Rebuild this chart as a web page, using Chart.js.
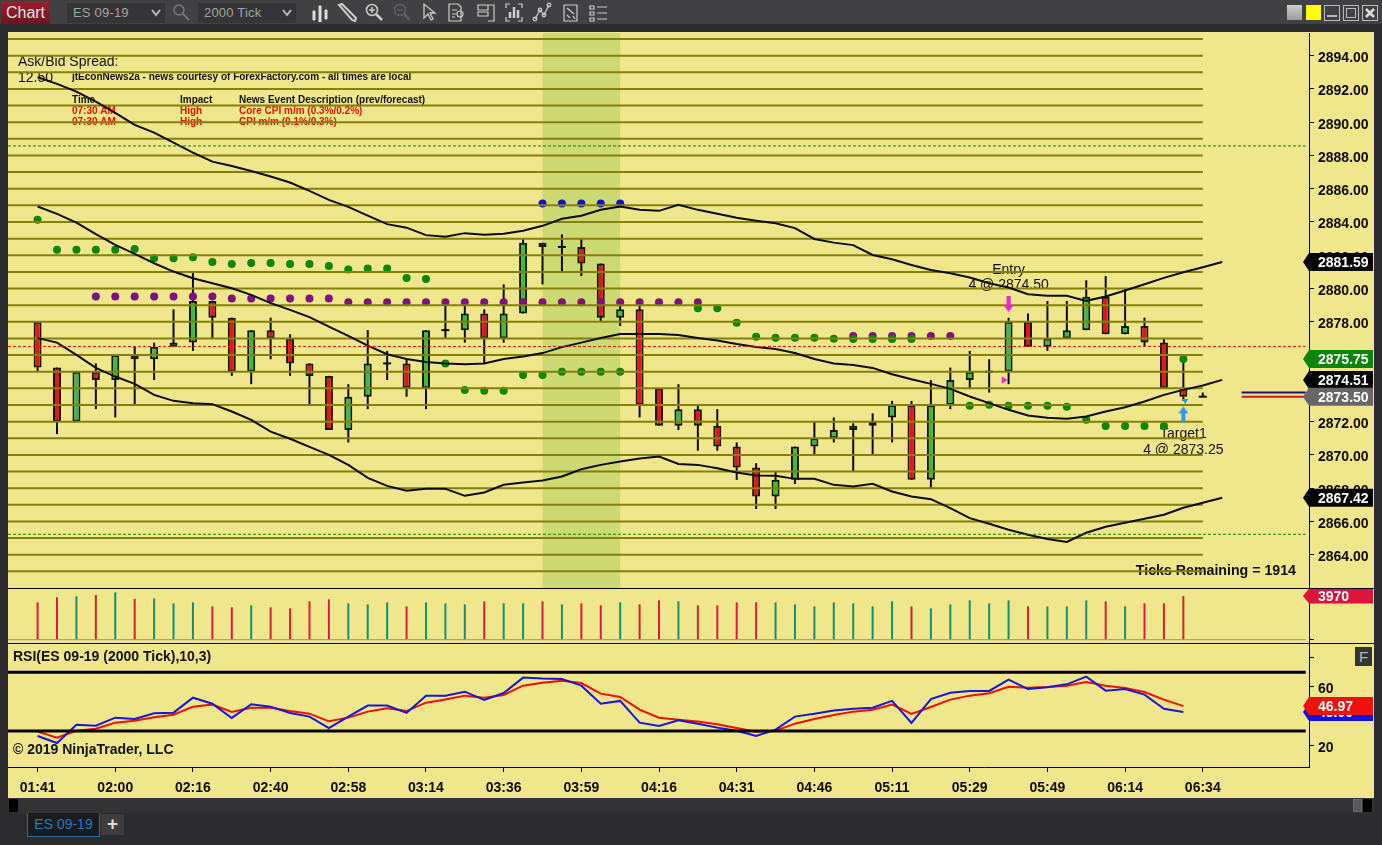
<!DOCTYPE html>
<html>
<head>
<meta charset="utf-8">
<title>ES 09-19</title>
<script src="https://cdn.jsdelivr.net/npm/chart.js@4"></script>
<style>
html, body { margin: 0; padding: 0; background: #2c2c2e; width: 1382px; height: 845px; overflow: hidden; font-family: "Liberation Sans", Arial, sans-serif; }
#toolbar { position: absolute; left: 0; top: 0; width: 1382px; height: 24px; background: #414143; }
#underbar { position: absolute; left: 0; top: 24px; width: 1382px; height: 8px; background: #2c2c2e; }
#chartBtn { position: absolute; left: 1px; top: 1px; width: 49px; height: 23px; background: linear-gradient(#97202f, #6f1420); color: #e6e0e0; font-size: 16px; line-height: 23px; text-align: center; }
.drop { position: absolute; top: 3px; height: 20px; width: 98px; background: #353537; color: #a3a3a3; font-size: 13px; line-height: 20px; text-indent: 6px; letter-spacing: 0.2px; }
.drop svg { position: absolute; right: 4px; top: 6px; }
.icon { position: absolute; top: 2px; }
#panel { position: absolute; left: 8px; top: 32px; width: 1366px; height: 766px; background: #f0e68c; }
canvas { position: absolute; left: 8px; }
.rule { position: absolute; left: 8px; width: 1366px; height: 1px; background: #000; }
#fBtn { position: absolute; left: 1355px; top: 647px; width: 17px; height: 19px; background: #333335; color: #bbb; font-size: 15px; line-height: 19px; text-align: center; }
#scroll { position: absolute; left: 8px; top: 798px; width: 1366px; height: 15px; background: #333335; }
.scrollEnd { position: absolute; top: 799px; width: 9px; height: 13px; background: #000; }
#thumb { position: absolute; left: 1353px; top: 799px; width: 9px; height: 13px; background: #58585a; border: 1px solid #6b6b6d; box-sizing: border-box; }
#tab { position: absolute; left: 27px; top: 813px; width: 73px; height: 24px; box-sizing: border-box; background: #1c1c1e; border: 1px solid #1e6fae; border-top: none; color: #1e78c2; font-size: 14px; line-height: 23px; text-align: center; }
#plus { position: absolute; left: 101px; top: 814px; width: 23px; height: 21px; background: #3d3d40; color: #ddd; font-size: 19px; font-weight: bold; line-height: 20px; text-align: center; }
.winBtn { position: absolute; top: 5px; width: 15px; height: 15px; box-sizing: border-box; }
</style>
</head>
<body>
<div id="toolbar">
    <div id="chartBtn">Chart</div>
    <div class="drop" style="left:67px">ES 09-19<svg width="10" height="8"><path d="M1 1 L5 6 L9 1" stroke="#bbb" stroke-width="2" fill="none"/></svg></div>
    <svg class="icon" style="left:171px" width="20" height="20" stroke="#77777a" fill="none" stroke-width="1.5"><circle cx="8" cy="8" r="5"/><path d="M12 12 L18 18" stroke-width="2"/></svg>
    <div class="drop" style="left:198px">2000 Tick<svg width="10" height="8"><path d="M1 1 L5 6 L9 1" stroke="#bbb" stroke-width="2" fill="none"/></svg></div>
    <svg class="icon" style="left:310px" width="20" height="20" stroke="#ddd" fill="#ddd" stroke-width="1"><path d="M3 9 H5 V18 H3Z M9 4 H11 V20 H9Z M15 8 H17 V17 H15Z"/></svg>
    <svg class="icon" style="left:337px" width="20" height="20" stroke="#ccc" fill="none" stroke-width="2"><path d="M2 3 L5 2 L19 16 L18 19 L15 18 Z"/></svg>
    <svg class="icon" style="left:364px" width="20" height="20" stroke="#ccc" fill="none" stroke-width="1.5"><circle cx="8" cy="8" r="5.5"/><path d="M5 8 H11 M8 5 V11"/><path d="M12 12 L18 18" stroke-width="2.5"/></svg>
    <svg class="icon" style="left:392px" width="20" height="20" stroke="#5f5f61" fill="none" stroke-width="1.5"><circle cx="8" cy="8" r="5.5"/><path d="M5 8 H11"/><path d="M12 12 L18 18" stroke-width="2.5"/></svg>
    <svg class="icon" style="left:420px" width="20" height="20" stroke="#ccc" fill="none" stroke-width="1.3"><path d="M4 2 L4 16 L8 12 L11 18 L13 17 L10 11 L15 11 Z"/></svg>
    <svg class="icon" style="left:447px" width="20" height="20" stroke="#ccc" fill="none" stroke-width="1.2"><path d="M2 2 H11 L14 5 V19 H2 Z M5 8 H10 M5 12 H9 M5 15 H8"/><circle cx="13" cy="12" r="3"/></svg>
    <svg class="icon" style="left:476px" width="20" height="20" stroke="#ccc" fill="none" stroke-width="1.2"><path d="M2 3 H12 V8 H2 Z M2 10 H12 V14 H2 Z M12 3 H18 V19 H12"/></svg>
    <svg class="icon" style="left:504px" width="20" height="20" stroke="#ccc" fill="none" stroke-width="1.2"><path d="M2 6 V2 H6 M14 2 H18 V6 M18 15 V19 H14 M6 19 H2 V15"/><path d="M6 16 V10 M10 16 V5 M14 16 V8" stroke-width="2.5"/></svg>
    <svg class="icon" style="left:532px" width="20" height="20" stroke="#ccc" fill="none" stroke-width="1.2"><path d="M3 17 L8 8 L12 13 L17 3"/><circle cx="3" cy="17" r="1.8"/><circle cx="8" cy="8" r="1.8"/><circle cx="12" cy="13" r="1.8"/><circle cx="17" cy="3" r="1.8"/></svg>
    <svg class="icon" style="left:561px" width="20" height="20" stroke="#ccc" fill="none" stroke-width="1.2"><path d="M3 3 H16 V19 H3 Z M6 6 L13 12 M6 13 L9 16 M12 14 L14 17"/></svg>
    <svg class="icon" style="left:589px" width="20" height="20" stroke="#ccc" fill="none" stroke-width="1.2"><path d="M1 4 H5 V7 H1 Z M1 10 H5 V13 H1 Z M1 16 H5 V19 H1 Z M8 5 H18 M8 11 H18 M8 17 H18"/></svg>
    <div class="winBtn" style="left:1287px;background:linear-gradient(#cfcfcf,#9a9a9a);width:15px"></div>
    <div class="winBtn" style="left:1306px;background:#ffff00"></div>
    <svg class="icon" style="left:1324px;top:5px" width="16" height="16" stroke="#bbb" fill="none"><rect x="0.5" y="0.5" width="15" height="15"/><path d="M3 11 H13" stroke-width="2"/></svg>
    <svg class="icon" style="left:1343px;top:5px" width="16" height="16" stroke="#bbb" fill="none"><rect x="0.5" y="0.5" width="15" height="15"/><rect x="3.5" y="3.5" width="9" height="9"/></svg>
    <svg class="icon" style="left:1362px;top:5px" width="16" height="16" stroke="#bbb" fill="none"><rect x="0.5" y="0.5" width="15" height="15"/><path d="M4 4 L12 12 M12 4 L4 12" stroke-width="2.5" stroke="#ddd"/></svg>
</div>
<div id="underbar"></div>
<div id="panel"></div>
<canvas id="priceChart" style="top:33px;width:1366px;height:555px"></canvas>
<div class="rule" style="top:588px"></div>
<canvas id="volumeChart" style="top:589px;width:1366px;height:54px"></canvas>
<div class="rule" style="top:643px"></div>
<canvas id="rsiChart" style="top:644px;width:1366px;height:154px"></canvas>
<div id="fBtn">F</div>
<div id="scroll"></div>
<div class="scrollEnd" style="left:9px"></div>
<div class="scrollEnd" style="left:1363px"></div>
<div id="thumb"></div>
<div id="tab">ES 09-19</div>
<div id="plus">+</div>

<script>
// candles, one entry per bar, in price
const opens = [2878, 2875.25, 2872, 2875, 2874.5, 2876, 2875.75, 2876.5, 2876.75, 2879.25,
    2878.25, 2875, 2877.5, 2877, 2875.5, 2874.75, 2871.5, 2873.5, 2875.5, 2875.5,
    2874, 2877.5, 2877.5, 2878.5, 2877, 2878.5, 2882.75, 2882.5, 2882.5, 2881.5,
    2878.25, 2878.75, 2874, 2871.75, 2872.75, 2871.75, 2870.5, 2869.25, 2867.5, 2868.5,
    2870.5, 2871, 2871.5, 2871.75, 2872.25, 2873, 2868.5, 2873, 2874.5, 2875,
    2875, 2878, 2876.5, 2877, 2877.5, 2879.5, 2877.25, 2877.75, 2876.75, 2874, 2873.5];
const closes = [2875.25, 2872, 2875, 2874.5, 2876, 2875.75, 2876.5, 2876.75, 2879.25, 2878.25,
    2875, 2877.5, 2877, 2875.5, 2874.75, 2871.5, 2873.5, 2875.5, 2875.5, 2874,
    2877.5, 2877.5, 2878.5, 2877, 2878.5, 2882.75, 2882.5, 2882.5, 2881.5, 2878.25,
    2878.75, 2873, 2871.75, 2872.75, 2871.75, 2870.5, 2869.25, 2867.5, 2868.5, 2870.5,
    2871, 2871.5, 2871.75, 2872, 2873, 2868.5, 2873, 2874.5, 2875, 2875,
    2878, 2876.5, 2877, 2877.5, 2879.5, 2877.25, 2877.75, 2876.75, 2874, 2873.5, 2873.5];
const highs = [2878, 2875.25, 2875, 2875.5, 2876, 2876.5, 2876.75, 2878.75, 2881, 2879.25,
    2878.25, 2877.5, 2878.25, 2877.25, 2875.5, 2874.75, 2874.25, 2877.5, 2876.25, 2875.75,
    2877.5, 2879, 2879, 2878.75, 2880.25, 2883, 2882.75, 2883.25, 2883, 2881.5,
    2879, 2879, 2874, 2874.25, 2873, 2872.75, 2870.75, 2869.5, 2869, 2870.5,
    2872, 2872.25, 2871.9, 2872.5, 2873.25, 2873.25, 2874.5, 2875.25, 2876.25, 2875.75,
    2878.25, 2878.5, 2879.25, 2879.25, 2880.5, 2880.75, 2880, 2878.25, 2877, 2875.75, 2873.75];
const lows = [2875, 2871.25, 2872, 2872.75, 2872.25, 2873, 2874.5, 2876.5, 2876.25, 2877,
    2874.75, 2874.25, 2875.75, 2874.75, 2873, 2871.5, 2870.75, 2872.75, 2874.5, 2873.5,
    2872.75, 2877, 2876.75, 2875.5, 2876.75, 2878.5, 2880.25, 2881, 2880.75, 2878,
    2877.75, 2872.25, 2871.75, 2871.5, 2870.25, 2870.25, 2868.5, 2866.75, 2866.75, 2868.25,
    2870, 2870.75, 2869, 2870, 2870.75, 2868.5, 2868, 2872.75, 2874, 2873.75,
    2874.25, 2876.5, 2876.25, 2877, 2877.5, 2877.25, 2877.25, 2876.5, 2874, 2873.25, 2873.5];
const volumes = [3394, 3848, 3939, 4060, 4303, 3697, 3757, 3303, 3394, 3030,
    2939, 3121, 2939, 2848, 3485, 3666, 3303, 3212, 3394, 3030,
    3394, 3303, 3212, 3485, 3303, 3303, 3485, 3212, 3303, 3121,
    3394, 3212, 3575, 3485, 3121, 3121, 3394, 3394, 3394, 3212,
    3030, 3394, 3303, 3030, 3485, 3030, 2848, 3212, 3575, 3303,
    3575, 3030, 3030, 3030, 3575, 3485, 3030, 3303, 3303, 3970];

// moving average envelope
const upperBand = [2892.70, 2892.30, 2891.84, 2891.24, 2890.56, 2889.84, 2889.37, 2888.77, 2888.17, 2887.63,
    2887.37, 2887.07, 2886.73, 2886.37, 2885.87, 2885.33, 2884.91, 2884.38, 2883.87, 2883.66,
    2883.21, 2883.12, 2883.33, 2883.24, 2883.30, 2883.48, 2883.77, 2884.19, 2884.38, 2884.73,
    2884.93, 2884.73, 2884.67, 2885.03, 2884.73, 2884.49, 2884.25, 2884.08, 2883.93, 2883.63,
    2882.98, 2882.76, 2882.61, 2882.02, 2881.76, 2881.42, 2881.12, 2880.92, 2880.66, 2880.32,
    2880.06, 2879.66, 2879.56, 2879.56, 2879.26, 2879.52, 2879.88, 2880.26, 2880.64, 2880.98,
    2881.28, 2881.59];
const middleBand = [2884.93, 2884.49, 2883.96, 2883.27, 2882.62, 2882.08, 2881.52, 2881.02, 2880.62, 2880.32,
    2880.02, 2879.62, 2879.12, 2878.72, 2878.28, 2877.71, 2877.15, 2876.57, 2876.05, 2875.77,
    2875.59, 2875.49, 2875.45, 2875.49, 2875.77, 2875.91, 2876.12, 2876.48, 2876.75, 2877.03,
    2877.27, 2877.27, 2877.27, 2877.21, 2877.03, 2876.87, 2876.66, 2876.49, 2876.37, 2876.12,
    2875.77, 2875.49, 2875.41, 2875.23, 2874.85, 2874.55, 2874.27, 2873.97, 2873.51, 2873.11,
    2872.71, 2872.37, 2872.23, 2872.17, 2872.31, 2872.61, 2872.87, 2873.21, 2873.61, 2873.91,
    2874.17, 2874.51];
const lowerBand = [2877.02, 2876.75, 2876.01, 2875.23, 2874.71, 2874.27, 2873.61, 2873.25, 2873.11, 2873.05,
    2872.61, 2872.11, 2871.40, 2870.97, 2870.48, 2870.00, 2869.40, 2868.62, 2868.14, 2867.84,
    2867.96, 2867.96, 2867.54, 2867.74, 2868.20, 2868.34, 2868.46, 2868.70, 2869.14, 2869.40,
    2869.60, 2869.78, 2869.90, 2869.46, 2869.40, 2869.20, 2868.94, 2868.76, 2868.74, 2868.56,
    2868.56, 2868.20, 2868.10, 2868.26, 2867.80, 2867.50, 2867.34, 2866.80, 2866.20, 2865.86,
    2865.50, 2865.20, 2864.95, 2864.77, 2865.32, 2865.68, 2865.92, 2866.16, 2866.40, 2866.82,
    2867.12, 2867.42];

// dots of the trailing stop indicators, null where a bar has no dot
const greenDots = [2884.13, 2882.33, 2882.33, 2882.33, 2882.33, 2882.37, 2881.82, 2881.82, 2881.88, 2881.6,
    2881.48, 2881.54, 2881.54, 2881.48, 2881.48, 2881.36, 2881.14, 2881.2, 2881.2, 2880.64,
    2880.58, 2875.49, 2873.9, 2873.85, 2873.85, 2874.81, 2874.81, 2875, 2875, 2875,
    2875, null, null, null, 2878.82, 2878.82, 2877.94, 2877.1, 2877.04, 2877.04,
    2877.04, 2876.98, 2876.97, 2876.97, 2876.97, 2876.97, null, null, 2872.96, 2873.02,
    2872.96, 2872.96, 2872.96, 2872.9, 2872.12, 2871.74, 2871.74, 2871.74, 2871.74, 2875.77];
const purpleDots = [null, null, null, 2879.52, 2879.52, 2879.52, 2879.52, 2879.52, 2879.52, 2879.52,
    2879.4, 2879.4, 2879.4, 2879.4, 2879.4, 2879.4, 2879.18, 2879.18, 2879.18, 2879.18,
    2879.18, 2879.18, 2879.18, 2879.18, 2879.18, 2879.18, 2879.18, 2879.18, 2879.18, 2879.18,
    2879.18, 2879.18, 2879.18, 2879.18, 2879.18, null, null, null, null, null,
    null, null, 2877.15, 2877.15, 2877.15, 2877.15, 2877.15, 2877.15];
const blueDots = [{x: 26, y: 2885.11}, {x: 27, y: 2885.11}, {x: 28, y: 2885.11}, {x: 29, y: 2885.11}, {x: 30, y: 2885.11}];

// RSI panel
const rsiValues = [26.6, 21.8, 34.3, 33.6, 39.1, 38.2, 42.05, 42.5, 52.7, 48.6,
    38.9, 48.2, 46.6, 42.3, 39.8, 32.05, 39.8, 47.3, 47.3, 42.3,
    54.1, 54.1, 56.8, 51.1, 55.9, 66.4, 65.7, 65.5, 60.9, 48.6,
    50.5, 35.7, 33.4, 37.3, 35, 32.3, 30.2, 26.6, 30.9, 39.8,
    41.8, 43.9, 45.2, 45.9, 50.5, 35.5, 51.8, 56.1, 57.3, 57.3,
    65, 58.6, 59.8, 61.8, 67.05, 57.5, 58.6, 54.8, 45.2, 43];
const rsiAverage = [29.55, 25.45, 30.2, 31.6, 35.7, 37.05, 39.3, 41.1, 46.6, 48,
    43, 45.9, 45.9, 43.6, 41.8, 36.6, 39.1, 43.2, 45.5, 43.6,
    49.3, 51.4, 54.1, 52.7, 54.55, 60.9, 62.95, 64.3, 62.7, 55.45,
    53.2, 44.55, 39.1, 37.7, 36.4, 34.55, 32.05, 29.55, 30.2, 35,
    38.2, 40.9, 43.2, 44.55, 48, 41.6, 46.4, 51.4, 54.1, 55.7,
    60.2, 59.55, 60, 60.9, 63.4, 60.9, 59.3, 56.6, 51.4, 46.97];
const rsiBands = [70, 30];
const rsiTicks = [80, 60, 40, 20];
const rsiTickLabels = [60, 20];

// reference levels and axis
const gridLevels = [2895, 2894, 2893, 2892, 2891, 2890, 2889, 2888, 2887, 2886, 2885, 2884, 2883, 2882, 2881, 2880, 2879,
    2878, 2877, 2876, 2875, 2874, 2873, 2872, 2871, 2870, 2869, 2868, 2867, 2866, 2865, 2864, 2863];
const greenDashLevels = [2888.57, 2865.23];
const redDashLevel = 2876.52;
const askPrice = 2873.75;
const bidPrice = 2873.5;
const priceTicks = [2894, 2892, 2890, 2888, 2886, 2884, 2882, 2880, 2878, 2876, 2874, 2872, 2870, 2868, 2866, 2864];
const timeTickBars = [0, 4, 8, 12, 16, 20, 24, 28, 32, 36, 40, 44, 48, 52, 56, 60];
const timeLabels = ['01:41', '02:00', '02:16', '02:40', '02:58', '03:14', '03:36', '03:59', '04:16', '04:31', '04:46', '05:11', '05:29', '05:49', '06:14', '06:34'];
const sessionBand = [26, 30];

const KHAKI_TEXT = '#0c0c08';
const UP = '#41b941', DOWN = '#e8141a';
const VOL_UP = '#16906c', VOL_DOWN = '#d81e3c';
const AXIS_FONT = { family: '"Liberation Sans", Arial, sans-serif', size: 14, weight: 'bold' };
const X_MIN = -1.524, X_MAX = 65.47;
const LAST_BAR_LINE = 60, RIGHT_EDGE = 65.3;

const xy = values => values.map((v, i) => ({ x: i, y: v }));
const flat = (from, to, y) => [{ x: from, y: y }, { x: to, y: y }];
const isUp = i => closes[i] >= opens[i];

function arrowImage(color, up) {
    // small block arrow used for the order markers
    const c = document.createElement('canvas');
    c.width = 10; c.height = 16;
    const g = c.getContext('2d');
    g.fillStyle = color;
    g.beginPath();
    if (up) {
        g.moveTo(5, 0); g.lineTo(10, 7); g.lineTo(7, 7); g.lineTo(7, 16); g.lineTo(3, 16); g.lineTo(3, 7); g.lineTo(0, 7);
    } else {
        g.moveTo(3, 0); g.lineTo(7, 0); g.lineTo(7, 9); g.lineTo(10, 9); g.lineTo(5, 16); g.lineTo(0, 9); g.lineTo(3, 9);
    }
    g.closePath();
    g.fill();
    return c;
}

function drawTag(ctx, chartArea, y, text, fill, height) {
    const left = chartArea.right;
    const tagH = height || 18;
    ctx.save();
    ctx.fillStyle = fill;
    ctx.beginPath();
    ctx.moveTo(left - 6, y);
    ctx.lineTo(left, y - tagH / 2);
    ctx.lineTo(left + 64, y - tagH / 2);
    ctx.lineTo(left + 64, y + tagH / 2);
    ctx.lineTo(left, y + tagH / 2);
    ctx.closePath();
    ctx.fill();
    ctx.fillStyle = '#fff';
    ctx.font = 'bold 14px "Liberation Sans", Arial, sans-serif';
    ctx.textBaseline = 'middle';
    ctx.textAlign = 'left';
    ctx.fillText(text, left + 9, y + 1);
    ctx.restore();
}

function axisX() {
    return { type: 'linear', min: X_MIN, max: X_MAX, offset: false, display: false, grid: { display: false } };
}

// scales reserve room for half a label past the plot: the panels here butt up against each other
function noMargins(scale) {
    scale.paddingTop = 0;
    scale.paddingBottom = 0;
    scale.paddingLeft = 0;
    scale.paddingRight = 0;
}

function rightAxis(min, max, ticksList, labelFn) {
    return {
        type: 'linear',
        position: 'right',
        min: min,
        max: max,
        afterFit: scale => { scale.width = 65; noMargins(scale); },
        afterBuildTicks: scale => { scale.ticks = ticksList.map(v => ({ value: v })); },
        border: { display: true, color: '#000', width: 1 },
        grid: { display: true, drawOnChartArea: false, drawTicks: true, tickLength: 5, tickColor: '#000', tickWidth: 1 },
        ticks: { color: KHAKI_TEXT, font: AXIS_FONT, padding: 4, labelOffset: 2.5, callback: labelFn, autoSkip: false }
    };
}

const baseOptions = {
    responsive: false,
    animation: false,
    events: [],
    layout: { padding: 0, autoPadding: false },
    plugins: { legend: { display: false }, tooltip: { enabled: false } }
};

// text that the grid lines run across, so it goes under the datasets
const priceUnderlay = {
    id: 'priceUnderlay',
    beforeDatasetsDraw(chart) {
        const { ctx, chartArea, scales: { x, y } } = chart;
        ctx.save();
        ctx.fillStyle = '#cdd973';
        const l = x.getPixelForValue(sessionBand[0]), r = x.getPixelForValue(sessionBand[1]);
        ctx.fillRect(l, chartArea.top, r - l, chartArea.bottom - chartArea.top);

        const put = (text, px, py, font, color, align) => {
            ctx.font = font;
            ctx.fillStyle = color;
            ctx.textAlign = align || 'left';
            ctx.textBaseline = 'middle';
            ctx.fillText(text, px, py);
        };
        const big = '14px "Liberation Sans", Arial, sans-serif';
        const small = 'bold 10px "Liberation Sans", Arial, sans-serif';
        put('Ask/Bid Spread:', 10, 29, big, '#111');
        put('12.50', 10, 45, big, '#111');
        put('jtEconNews2a - news courtesy of ForexFactory.com - all times are local', 64, 44, small, '#111');
        put('Time', 64, 67, small, '#111');
        put('Impact', 172, 67, small, '#111');
        put('News Event Description (prev/forecast)', 231, 67, small, '#111');
        put('07:30 AM', 64, 78, small, '#ee1100');
        put('High', 172, 78, small, '#ee1100');
        put('Core CPI m/m (0.3%/0.2%)', 231, 78, small, '#ee1100');
        put('07:30 AM', 64, 89, small, '#ee1100');
        put('High', 172, 89, small, '#ee1100');
        put('CPI m/m (0.1%/0.3%)', 231, 89, small, '#ee1100');

        const entryX = x.getPixelForValue(50);
        put('Entry', entryX, y.getPixelForValue(2881.12), big, '#111', 'center');
        put('4 @ 2874.50', entryX, y.getPixelForValue(2880.22), big, '#111', 'center');
        const targetX = x.getPixelForValue(59);
        put('Target1', targetX, y.getPixelForValue(2871.27), big, '#111', 'center');
        put('4 @ 2873.25', targetX, y.getPixelForValue(2870.3), big, '#111', 'center');
        put('Ticks Remaining = 1914', 1288, 538, 'bold 14.2px "Liberation Sans", Arial, sans-serif', '#111', 'right');
        ctx.restore();
    },
    afterDraw(chart) {
        const { ctx, chartArea, scales: { y } } = chart;
        drawTag(ctx, chartArea, y.getPixelForValue(upperBand[61]), '2881.59', '#050505');
        drawTag(ctx, chartArea, y.getPixelForValue(lowerBand[61]), '2867.42', '#050505');
        drawTag(ctx, chartArea, y.getPixelForValue(middleBand[61]), '2874.51', '#050505');
        drawTag(ctx, chartArea, y.getPixelForValue(greenDots[59]), '2875.75', '#0b850b');
        drawTag(ctx, chartArea, y.getPixelForValue(bidPrice), '2873.50', '#67676a');
    }
};

const gridSets = gridLevels.map(level => ({
    type: 'line',
    data: flat(X_MIN, LAST_BAR_LINE, level),
    borderColor: '#857f0c',
    borderWidth: 2,
    pointRadius: 0,
    order: 6
}));

const dots = (points, color) => ({
    type: 'line',
    data: points,
    showLine: false,
    pointRadius: 4,
    pointBorderWidth: 0,
    pointBackgroundColor: color,
    order: 7
});
const band = values => ({
    type: 'line',
    data: xy(values),
    borderColor: '#0c0c08',
    borderWidth: 2,
    pointRadius: 0,
    order: 5
});
const dash = (level, color, to) => ({
    type: 'line',
    data: flat(X_MIN, to, level),
    borderColor: color,
    borderWidth: 1,
    borderDash: [3, 2],
    pointRadius: 0,
    order: 5
});
const marker = (x, y, style, color, radius, rotation) => ({
    type: 'line',
    data: [{ x: x, y: y }],
    showLine: false,
    pointStyle: style,
    pointRadius: radius,
    pointRotation: rotation,
    pointBorderWidth: 0,
    pointBackgroundColor: color,
    order: 4
});

new Chart(document.getElementById('priceChart'), {
    type: 'bar',
    data: {
        datasets: [
            {
                data: highs.map((h, i) => ({ x: i, y: [lows[i], h] })),
                backgroundColor: '#0a0a0a',
                barThickness: 2,
                grouped: false,
                inflateAmount: 0,
                order: 10
            },
            {
                data: opens.map((o, i) => ({ x: i, y: o === closes[i] ? null : [o, closes[i]] })),
                backgroundColor: opens.map((o, i) => (isUp(i) ? UP : DOWN)),
                borderColor: '#101808',
                borderWidth: 2,
                borderSkipped: false,
                barThickness: 8,
                grouped: false,
                inflateAmount: 0,
                order: 9
            },
            {
                type: 'line',
                data: opens.map((o, i) => ({ x: i, y: o === closes[i] ? o : null })),
                showLine: false,
                pointStyle: 'line',
                pointRadius: 4,
                pointBorderWidth: 2,
                pointBorderColor: '#0a0a0a',
                order: 8
            },
            dots(xy(greenDots), '#0a860a'),
            dots(xy(purpleDots), '#7f107f'),
            dots(blueDots, '#1010d0'),
            ...gridSets,
            dash(greenDashLevels[0], '#0a860a', RIGHT_EDGE),
            dash(greenDashLevels[1], '#0a860a', RIGHT_EDGE),
            dash(redDashLevel, '#ee1100', RIGHT_EDGE),
            band(upperBand),
            band(middleBand),
            band(lowerBand),
            {
                type: 'line',
                data: [{ x: 62, y: askPrice }, { x: RIGHT_EDGE, y: askPrice }],
                borderColor: '#14147c',
                borderWidth: 2,
                pointRadius: 0,
                order: 5
            },
            {
                type: 'line',
                data: [{ x: 62, y: bidPrice }, { x: RIGHT_EDGE, y: bidPrice }],
                borderColor: '#e01010',
                borderWidth: 2,
                pointRadius: 0,
                order: 5
            },
            marker(50, 2879.07, arrowImage('#f41fd8', false), '#f41fd8', 8, 0),
            marker(49.75, 2874.5, 'triangle', '#f41fd8', 4, 90),
            marker(59, 2872.44, arrowImage('#2f97f0', true), '#2f97f0', 8, 0),
            marker(59.1, 2873.25, 'triangle', '#2f97f0', 3.5, 300)
        ]
    },
    options: {
        ...baseOptions,
        scales: {
            x: axisX(),
            y: rightAxis(2862, 2895.36, priceTicks, v => v.toFixed(2))
        }
    },
    plugins: [priceUnderlay]
});

new Chart(document.getElementById('volumeChart'), {
    type: 'bar',
    data: {
        datasets: [
            {
                data: xy(volumes),
                backgroundColor: volumes.map((v, i) => (isUp(i) ? VOL_UP : VOL_DOWN)),
                barThickness: 2,
                inflateAmount: 0,
                order: 2
            },
            {
                type: 'line',
                data: flat(X_MIN, RIGHT_EDGE, 0),
                borderColor: '#949488',
                borderWidth: 1,
                pointRadius: 0,
                order: 3
            }
        ]
    },
    options: {
        ...baseOptions,
        scales: {
            x: axisX(),
            y: rightAxis(-300, 4606, [0], () => '')
        }
    },
    plugins: [{
        id: 'volumeTag',
        afterDraw(chart) {
            drawTag(chart.ctx, chart.chartArea, chart.scales.y.getPixelForValue(volumes[59]), '3970', '#dc143c', 15);
        }
    }]
});

new Chart(document.getElementById('rsiChart'), {
    type: 'line',
    data: {
        datasets: [
            { data: flat(X_MIN, RIGHT_EDGE, rsiBands[0]), borderColor: '#000', borderWidth: 3, pointRadius: 0 },
            { data: flat(X_MIN, RIGHT_EDGE, rsiBands[1]), borderColor: '#000', borderWidth: 3, pointRadius: 0 },
            { data: xy(rsiValues), borderColor: '#1515dc', borderWidth: 2, pointRadius: 0 },
            { data: xy(rsiAverage), borderColor: '#f01000', borderWidth: 2, pointRadius: 0 }
        ]
    },
    options: {
        ...baseOptions,
        scales: {
            x: {
                type: 'linear',
                min: X_MIN,
                max: X_MAX,
                offset: false,
                afterFit: scale => { scale.height = 31; noMargins(scale); },
                afterBuildTicks: scale => { scale.ticks = timeTickBars.map(v => ({ value: v })); },
                border: { display: true, color: '#000', width: 1 },
                grid: { display: true, drawOnChartArea: false, drawTicks: true, tickLength: 5, tickColor: '#000' },
                ticks: {
                    color: KHAKI_TEXT,
                    font: AXIS_FONT,
                    padding: 8,
                    maxRotation: 0,
                    autoSkip: false,
                    callback: v => timeLabels[timeTickBars.indexOf(v)]
                }
            },
            y: rightAxis(5.46, 89.3, rsiTicks, v => (rsiTickLabels.includes(v) ? String(v) : ''))
        }
    },
    plugins: [{
        id: 'rsiOverlay',
        beforeDatasetsDraw(chart) {
            const { ctx } = chart;
            ctx.save();
            ctx.font = 'bold 14px "Liberation Sans", Arial, sans-serif';
            ctx.fillStyle = '#111';
            ctx.textBaseline = 'middle';
            ctx.fillText('RSI(ES 09-19 (2000 Tick),10,3)', 5, 13);
            ctx.fillText('\u00a9 2019 NinjaTrader, LLC', 5, 106);
            ctx.restore();
        },
        afterDraw(chart) {
            const { ctx, chartArea, scales: { y } } = chart;
            drawTag(ctx, chartArea, y.getPixelForValue(rsiValues[59]), rsiValues[59].toFixed(2), '#1010e0');
            drawTag(ctx, chartArea, y.getPixelForValue(rsiAverage[59]), rsiAverage[59].toFixed(2), '#f40f0f');
        }
    }]
});
</script>
</body>
</html>
